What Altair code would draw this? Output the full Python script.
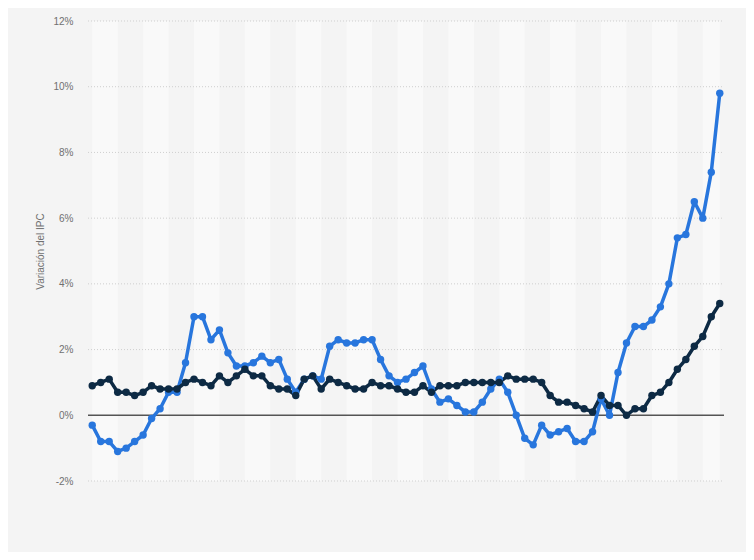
import altair as alt
import pandas as pd

# Monthly CPI variation (%), Jan 2016 - Mar 2022
ipc_general = [-0.3, -0.8, -0.8, -1.1, -1.0, -0.8, -0.6, -0.1, 0.2, 0.7, 0.7, 1.6,
               3.0, 3.0, 2.3, 2.6, 1.9, 1.5, 1.5, 1.6, 1.8, 1.6, 1.7, 1.1,
               0.7, 1.1, 1.2, 1.1, 2.1, 2.3, 2.2, 2.2, 2.3, 2.3, 1.7, 1.2,
               1.0, 1.1, 1.3, 1.5, 0.8, 0.4, 0.5, 0.3, 0.1, 0.1, 0.4, 0.8,
               1.1, 0.7, 0.0, -0.7, -0.9, -0.3, -0.6, -0.5, -0.4, -0.8, -0.8, -0.5,
               0.5, 0.0, 1.3, 2.2, 2.7, 2.7, 2.9, 3.3, 4.0, 5.4, 5.5, 6.5,
               6.0, 7.4, 9.8]
ipc_subyacente = [0.9, 1.0, 1.1, 0.7, 0.7, 0.6, 0.7, 0.9, 0.8, 0.8, 0.8, 1.0,
                  1.1, 1.0, 0.9, 1.2, 1.0, 1.2, 1.4, 1.2, 1.2, 0.9, 0.8, 0.8,
                  0.6, 1.1, 1.2, 0.8, 1.1, 1.0, 0.9, 0.8, 0.8, 1.0, 0.9, 0.9,
                  0.8, 0.7, 0.7, 0.9, 0.7, 0.9, 0.9, 0.9, 1.0, 1.0, 1.0, 1.0,
                  1.0, 1.2, 1.1, 1.1, 1.1, 1.0, 0.6, 0.4, 0.4, 0.3, 0.2, 0.1,
                  0.6, 0.3, 0.3, 0.0, 0.2, 0.2, 0.6, 0.7, 1.0, 1.4, 1.7, 2.1,
                  2.4, 3.0, 3.4]
series_names = ["IPC general", "IPC subyacente"]
series_colors = ["#2876dd", "#0d2a44"]
y_ticks = [-2, 0, 2, 4, 6, 8, 10, 12]

n = len(ipc_general)
rows = []
for i in range(n):
    rows.append({"i": i, "serie": series_names[0], "v": ipc_general[i]})
for i in range(n):
    rows.append({"i": i, "serie": series_names[1], "v": ipc_subyacente[i]})
df = pd.DataFrame(rows)

# quarter stripes (every other quarter lighter)
bands = pd.DataFrame([{"a": 3 * k, "b": min(3 * k + 3, n - 1)}
                      for k in range(0, (n + 2) // 3) if k % 2 == 0])
grid = pd.DataFrame({"g": [t for t in y_ticks if t != 0]})
zero = pd.DataFrame({"g": [0]})

xs = alt.Scale(domain=[-0.5, n - 0.5], nice=False, zero=False)
ys = alt.Scale(domain=[-2, 12], nice=False)

band_layer = alt.Chart(bands).mark_rect(color="#f9f9f9").encode(
    x=alt.X("a:Q", scale=xs, axis=None),
    x2="b:Q",
    y=alt.value(0),
    y2=alt.value(460),
)

grid_layer = alt.Chart(grid).mark_rule(color="#cfcfcf", strokeWidth=1, strokeDash=[1, 2]).encode(
    y=alt.Y("g:Q", scale=ys,
            axis=alt.Axis(values=y_ticks, labelExpr="datum.value + '%'", grid=False,
                          domain=False, ticks=False, labelFontSize=10, labelColor="#707070",
                          labelFont="Liberation Sans", labelPadding=15,
                          title="Variación del IPC", titleFontSize=10, titleColor="#707070",
                          titleFont="Liberation Sans", titleFontWeight="normal",
                          titleX=-43, titleY=230)),
    x=alt.value(0),
    x2=alt.value(636),
)

zero_layer = alt.Chart(zero).mark_rule(color="#555555", strokeWidth=1.5).encode(
    y=alt.Y("g:Q", scale=ys),
    x=alt.value(0),
    x2=alt.value(636),
)

color = alt.Color("serie:N", scale=alt.Scale(domain=series_names, range=series_colors), legend=None)

lines = alt.Chart(df).mark_line(strokeWidth=3.5, strokeJoin="round").encode(
    x=alt.X("i:Q", scale=xs),
    y=alt.Y("v:Q", scale=ys),
    color=color,
)
points = alt.Chart(df).mark_circle(size=55, opacity=1).encode(
    x=alt.X("i:Q", scale=xs),
    y=alt.Y("v:Q", scale=ys),
    color=color,
)

chart = alt.layer(band_layer, grid_layer, zero_layer, lines, points).properties(
    width=636,
    height=460,
    autosize=alt.AutoSizeParams(type="none"),
    padding={"left": 80, "top": 13, "right": 22, "bottom": 71},
    background="#f4f4f4",
).configure_view(stroke=None)

chart.save("out.html", embed_options={"renderer": "svg", "actions": False})
